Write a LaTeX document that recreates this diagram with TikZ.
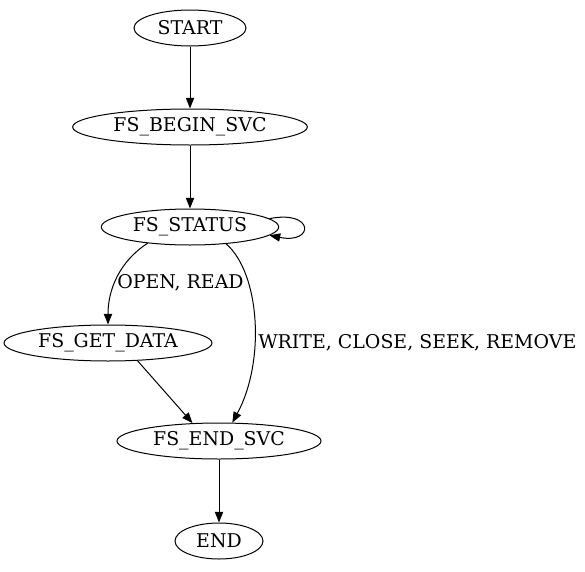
\documentclass[tikz,border=0pt]{standalone}
\usepackage{fontspec}
\setmainfont{DejaVu Serif}
\usetikzlibrary{shapes.geometric,arrows.meta}
\begin{document}
\begin{tikzpicture}[x=0.75pt,y=-0.75pt,
  st/.style={draw,ellipse,inner sep=0pt,minimum height=27pt,line width=0.75pt,font=\fontsize{14.2}{17}\selectfont},
  lbl/.style={inner sep=0pt,font=\fontsize{14.2}{17}\selectfont},
  edge/.style={line width=0.75pt,-{Triangle[length=8pt,width=6.2pt]}},
  ]
\useasboundingbox (0,0) rectangle (585,571);
\node[st,minimum width=84pt] (start) at (190,28) {START};
\node[st,minimum width=176pt] (begin) at (190,127) {FS\_BEGIN\_SVC};
\node[st,minimum width=133pt] (status) at (190,227) {FS\_STATUS};
\node[st,minimum width=156pt] (getdata) at (108,343) {FS\_GET\_DATA};
\node[st,minimum width=153pt] (endsvc) at (219,441) {FS\_END\_SVC};
\node[st,minimum width=66pt] (end) at (219,541) {END};
\draw[edge] (start) -- (begin);
\draw[edge] (begin) -- (status);
\draw[edge] (status.-159) .. controls +(-28,18) and +(0,-35) .. (getdata.north);
\draw[edge] (status.-25) .. controls +(34,30) and +(33,-61) .. (endsvc.54);
\draw[edge] (getdata.-31) -- (endsvc.146);
\draw[edge] (endsvc) -- (end);
\draw[edge] (status.6) .. controls +(45,-9) and +(45,9) .. (status.-6);
\node[lbl,anchor=west] (l1) at (117,283) {OPEN, READ};
\node[lbl,anchor=west] (l2) at (258,343) {WRITE, CLOSE, SEEK, REMOVE};
\end{tikzpicture}
\end{document}
